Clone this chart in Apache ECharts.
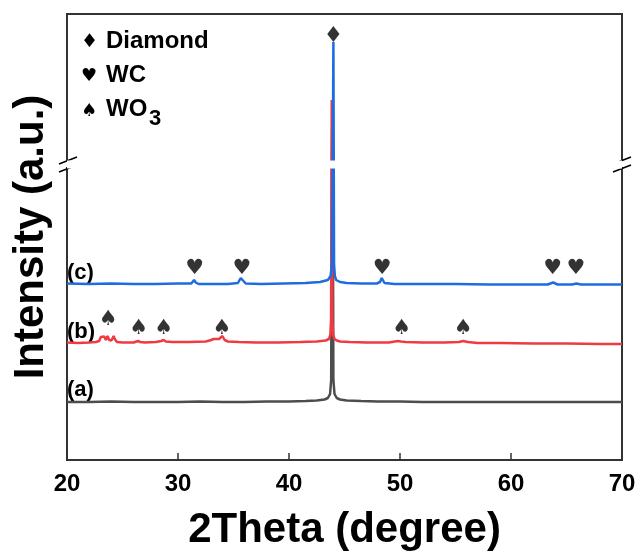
<!DOCTYPE html>
<html>
<head>
<meta charset="utf-8">
<script src="https://cdn.jsdelivr.net/npm/echarts@6/dist/echarts.min.js"></script>
<style>
html,body{margin:0;padding:0;background:#fff;}
#chart{width:636px;height:553px;}
</style>
</head>
<body>
<div id="chart"></div>
<script>
// ---- data (2Theta in degrees, intensity in arbitrary offset units) ----
var xTicks = [20, 30, 40, 50, 60, 70];

var twoTheta_a = [20, 22, 24, 26, 28, 30, 32, 34, 36, 38, 40, 41.5, 42.5, 43.2, 43.5, 43.7, 43.8, 43.86, 43.9, 43.94, 44.0, 44.1, 44.3, 44.6, 45.2, 46.5, 48, 50, 52, 55, 58, 60, 62, 65, 68, 70];
var intensity_a = [58, 58, 58.5, 58, 58, 58, 58.5, 58, 58, 58.5, 58.5, 59, 59.5, 60.5, 62, 66, 80, 300, 1040, 300, 80, 66, 62, 60.5, 59.5, 59, 58.5, 58.5, 58, 58, 58, 58, 58, 58, 58, 58];

var twoTheta_b = [20, 21, 22, 22.6, 22.9, 23.05, 23.2, 23.35, 23.5, 23.65, 23.8, 24.0, 24.2, 24.3, 24.5, 25, 26, 26.4, 26.6, 27, 28, 28.5, 28.7, 28.9, 29.5, 31, 32.5, 33.0, 33.2, 33.45, 33.7, 34.0, 34.2, 34.5, 35.5, 37, 39, 41, 42.5, 43.3, 43.6, 43.72, 43.79, 43.85, 43.91, 43.98, 44.1, 44.3, 44.6, 45.5, 47, 49, 49.8, 50.1, 50.5, 52, 54, 55.3, 55.7, 56.1, 57, 59, 62, 65, 68, 70];
var intensity_b = [117.5, 117, 117.5, 118, 119, 123, 121, 123.5, 120, 124, 120, 119.5, 124, 121, 118, 117.5, 117.5, 119, 118, 117.5, 118, 119, 120, 118.5, 118, 118, 118.5, 120, 121, 121, 121, 124, 120, 118.5, 118, 117.5, 117.5, 118, 118.5, 119.5, 121, 125, 140, 1060, 140, 125, 121, 119.5, 118.5, 118, 117.5, 117.5, 119, 118.5, 118, 117.5, 117.5, 118, 119, 118, 117, 117, 116.5, 116.5, 116, 116];

var twoTheta_c = [20, 22, 24, 26, 28, 30, 31.2, 31.45, 31.6, 31.85, 33, 34.5, 35.4, 35.65, 35.8, 36.1, 37.5, 39.5, 41.5, 42.8, 43.5, 43.75, 43.87, 43.94, 44.0, 44.06, 44.13, 44.25, 44.6, 45.2, 46.5, 47.9, 48.2, 48.35, 48.6, 49.5, 52, 55, 58, 61, 63.3, 63.8, 64.2, 65.5, 65.9, 66.3, 68, 70];
var intensity_c = [176.5, 176, 176.5, 176, 176, 176.5, 176.5, 180, 177.5, 176, 176, 176, 177, 182, 180, 176.5, 176, 176.5, 177, 178, 180, 184, 196, 400, 1118, 196, 184, 180, 178, 177, 176.5, 176.5, 178, 182, 177, 176, 176, 176, 175.5, 175.5, 175.5, 177.5, 175.5, 175.5, 176.5, 175.5, 175.5, 175.5];

// peak markers
var diamondX = [44.0], diamondY = [1124];
var heartX = [31.5, 35.75, 48.4, 63.75, 65.85], heartY = [191, 191, 191, 191, 191];
var spadeX = [23.7, 26.45, 28.7, 33.95, 50.15, 55.7], spadeY = [140, 131, 131, 131, 131, 131];

var sampleLabels = ['(a)', '(b)', '(c)'];
var legendNames = ['Diamond', 'WC', 'WO'];

function zip(xs, ys) { return xs.map(function (x, i) { return [x, ys[i]]; }); }

var FONT = "'Liberation Sans', Arial, sans-serif";
var NARROW = "'Liberation Sans Narrow', 'Arial Narrow', 'Liberation Sans', sans-serif";
var SYM = "'DejaVu Sans', sans-serif";

function markerSeries(xs, ys, ch, size) {
  return {
    type: 'scatter', data: zip(xs, ys), symbolSize: 0, silent: true, z: 5,
    label: { show: true, position: 'inside', formatter: ch, color: '#000',
      fontSize: size, fontFamily: SYM }
  };
}

var chart = echarts.init(document.getElementById('chart'), null, { renderer: 'canvas' });
chart.setOption({
  animation: false,
  backgroundColor: '#fff',
  grid: { left: 67, right: 14, top: 14, bottom: 93, outerBoundsMode: 'none', containLabel: false,
    show: true, borderColor: '#333', borderWidth: 2, backgroundColor: 'transparent' },
  xAxis: {
    type: 'value', min: 20, max: 70, interval: 10,
    axisLine: { show: true, onZero: false, lineStyle: { color: '#333', width: 2 } },
    axisTick: { show: true, inside: true, length: 7, lineStyle: { color: '#333', width: 1.5 } },
    splitLine: { show: false },
    axisLabel: { color: '#000', fontSize: 24, fontWeight: 'bold', fontFamily: NARROW, margin: 12 },
    name: '2Theta (degree)', nameLocation: 'middle', nameGap: 49,
    nameTextStyle: { color: '#000', fontSize: 42, fontWeight: 'bold', fontFamily: NARROW }
  },
  yAxis: {
    type: 'value', min: 0, max: 1146,
    breaks: [{ start: 292, end: 1000, gap: 8 }],
    breakArea: { show: true, zigzagAmplitude: 0, itemStyle: { color: '#fff', borderColor: '#fff', borderWidth: 0, opacity: 1 } },
    axisLine: { show: false }, axisTick: { show: false }, axisLabel: { show: false }, splitLine: { show: false },
    name: 'Intensity (a.u.)', nameLocation: 'middle', nameGap: 15, nameRotate: 90,
    nameTextStyle: { color: '#000', fontSize: 42, fontWeight: 'bold', fontFamily: FONT }
  },
  series: [
    { type: 'line', data: zip(twoTheta_a, intensity_a), showSymbol: false, lineStyle: { color: '#4d4d4d', width: 2.5 }, z: 2 },
    { type: 'line', data: zip(twoTheta_b, intensity_b), showSymbol: false, lineStyle: { color: '#f03a41', width: 2.5 }, z: 3 },
    { type: 'line', data: zip(twoTheta_c, intensity_c), showSymbol: false, lineStyle: { color: '#1f6be0', width: 2.5 }, z: 4 },
    markerSeries(diamondX, diamondY, '\u2666', 22),
    markerSeries(heartX, heartY, '\u2665', 21),
    markerSeries(spadeX, spadeY, '\u2660', 21)
  ],
  graphic: [
    // legend
    { type: 'text', left: 81, top: 33, style: { text: '\u2666', fontSize: 19, fill: '#000', fontFamily: SYM } },
    { type: 'text', left: 106, top: 29, style: { text: legendNames[0], fontSize: 24, fontWeight: 'bold', fill: '#000', fontFamily: FONT } },
    { type: 'text', left: 81, top: 67, style: { text: '\u2665', fontSize: 18, fill: '#000', fontFamily: SYM } },
    { type: 'text', left: 106, top: 63, style: { text: legendNames[1], fontSize: 24, fontWeight: 'bold', fill: '#000', fontFamily: FONT } },
    { type: 'text', left: 81, top: 102, style: { text: '\u2660', fontSize: 18, fill: '#000', fontFamily: SYM } },
    { type: 'text', left: 106, top: 97, style: { text: legendNames[2], fontSize: 24, fontWeight: 'bold', fill: '#000', fontFamily: FONT } },
    { type: 'text', left: 149, top: 108, style: { text: '3', fontSize: 22, fontWeight: 'bold', fill: '#000', fontFamily: FONT } },
    // sample labels
    { type: 'text', left: 67, top: 262, style: { text: sampleLabels[2], fontSize: 22, fontWeight: 'bold', fill: '#000', fontFamily: FONT } },
    { type: 'text', left: 67, top: 321, style: { text: sampleLabels[1], fontSize: 22, fontWeight: 'bold', fill: '#000', fontFamily: FONT } },
    { type: 'text', left: 67, top: 379, style: { text: sampleLabels[0], fontSize: 22, fontWeight: 'bold', fill: '#000', fontFamily: FONT } },
    // axis break marks
    { type: 'rect', shape: { x: 63, y: 161, width: 9, height: 6 }, style: { fill: '#fff' }, z: 50 },
    { type: 'line', shape: { x1: 59, y1: 164, x2: 77, y2: 157 }, style: { stroke: '#000', lineWidth: 1.5 }, z: 51 },
    { type: 'line', shape: { x1: 59, y1: 172, x2: 77, y2: 165 }, style: { stroke: '#000', lineWidth: 1.5 }, z: 51 },
    { type: 'rect', shape: { x: 618, y: 161, width: 9, height: 6 }, style: { fill: '#fff' }, z: 50 },
    { type: 'line', shape: { x1: 613, y1: 164, x2: 631, y2: 157 }, style: { stroke: '#000', lineWidth: 1.5 }, z: 51 },
    { type: 'line', shape: { x1: 613, y1: 172, x2: 631, y2: 165 }, style: { stroke: '#000', lineWidth: 1.5 }, z: 51 }
  ]
});
</script>
</body>
</html>
